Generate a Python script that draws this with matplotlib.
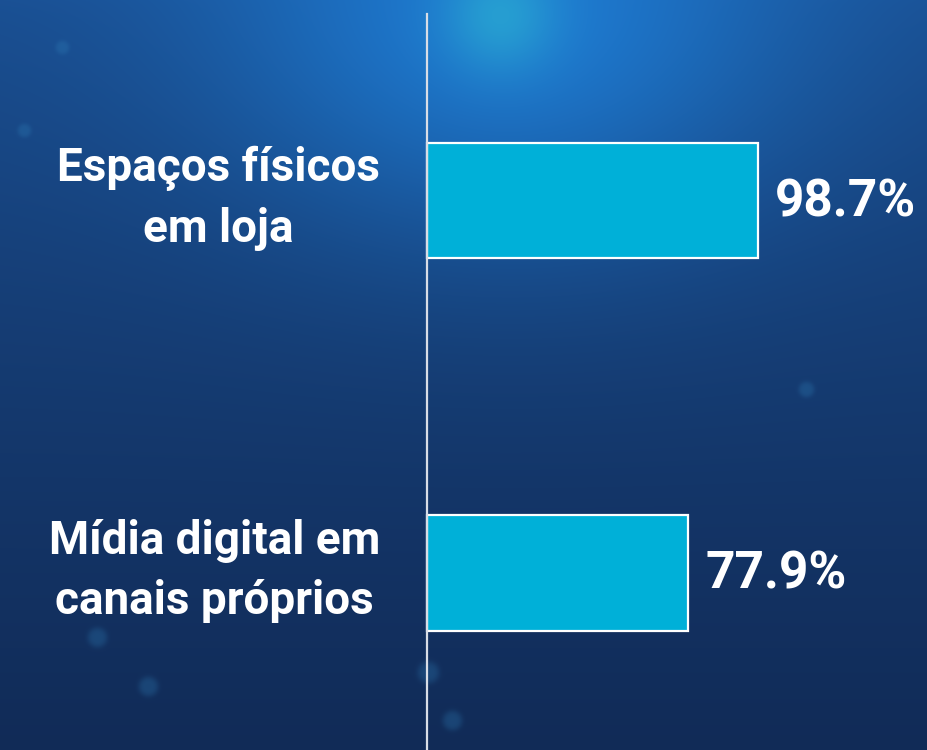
import numpy as np
import matplotlib.pyplot as plt
from matplotlib.colors import to_rgb

categories = ['Espaços físicos\nem loja', 'Mídia digital em\ncanais próprios']
values = [98.7, 77.9]
value_labels = ['98.7%', '77.9%']

W, H = 927, 750
fig = plt.figure(figsize=(W / 100, H / 100), dpi=100)

# background: dark blue gradient with a glow at the top
bg = fig.add_axes([0, 0, 1, 1], zorder=0)
yy, xx = np.mgrid[0:H, 0:W].astype(float)
top, bottom = np.array(to_rgb('#1a4f92')), np.array(to_rgb('#112b57'))
t = (yy / H)[..., None] ** 0.8
img = top * (1 - t) + bottom * t
d = np.hypot((xx - 510) * 0.9, (yy - 10) * 1.2)
glow = np.exp(-(d / 260) ** 2)[..., None] * 0.9
img = img * (1 - glow) + np.array(to_rgb('#1e7fd8')) * glow
core = np.exp(-(np.hypot(xx - 500, yy - 15) / 55) ** 2)[..., None]
img = img * (1 - core * 0.6) + np.array(to_rgb('#2cb6d2')) * core * 0.6
# soft bokeh dots
for cx, cy, r in [(62, 47, 7), (24, 130, 7), (806, 389, 8), (97, 637, 10),
                  (148, 686, 10), (428, 672, 11), (452, 720, 10)]:
    m = np.exp(-(np.hypot(xx - cx, yy - cy) / r) ** 4)[..., None] * 0.3
    img = img * (1 - m) + np.array(to_rgb('#2f7fb8')) * m
bg.imshow(np.clip(img, 0, 1), extent=[0, W, H, 0], aspect='auto')
bg.axis('off')

ax = fig.add_axes([0, 0, 1, 1], zorder=1)
ax.patch.set_alpha(0)
px = 3.354  # pixels per percentage point
ax.set_xlim(-427 / px, (W - 427) / px)
ax.set_ylim((H - 200.5) / 372.5, -200.5 / 372.5)
ypos = np.arange(len(values))
ax.barh(ypos, values, height=0.309, color='#00b0d8', edgecolor='white', linewidth=1.6, zorder=2)
ax.plot([0, 0], [-186.5 / 372.5, (H - 200.5) / 372.5], color='#d8dde6', lw=1.6, zorder=3)

for y, v, lab in zip(ypos, values, value_labels):
    ax.text(v + 17 / px, y + 0.005, lab, color='white', fontsize=37, fontweight='bold',
            va='center', ha='left', family='Roboto')
for y, c in zip(ypos, categories):
    ax.text(-47 / px, y - 0.005, c, color='white', fontsize=33, fontweight='bold',
            va='center', ha='right', multialignment='center', linespacing=1.45,
            family='Roboto')
ax.axis('off')

fig.savefig('out.png', dpi=100)
